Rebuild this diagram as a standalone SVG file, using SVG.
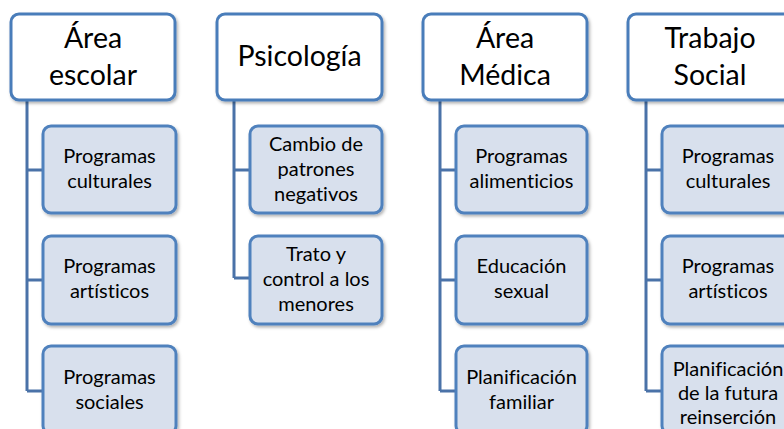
<svg xmlns="http://www.w3.org/2000/svg" width="784" height="429" viewBox="0 0 784 429">
<defs>
<filter id="sh" x="-10%" y="-10%" width="130%" height="130%">
<feDropShadow dx="1.5" dy="2" stdDeviation="1.5" flood-color="#000" flood-opacity="0.3"/>
</filter>
</defs>
<style>
.hd rect{fill:#ffffff;stroke:#4a7dba;stroke-width:3;filter:url(#sh)}
.ch rect{fill:#d8e0ed;stroke:#4f81bd;stroke-width:3;filter:url(#sh)}
text{font-variant-ligatures:none}
.hd text{font-family:Lato,"Liberation Sans",sans-serif;font-size:28.5px;fill:#000;text-anchor:middle}
.ch text{font-family:Lato,"Liberation Sans",sans-serif;font-size:20px;fill:#000;text-anchor:middle}
.cn path{fill:none;stroke:#4a72a8;stroke-width:3}
</style>
<rect width="784" height="429" fill="#ffffff"/>
<g id="connectors" class="cn">
<path d="M27,100V391M27,170H43M27,280H43M27,391H43"/>
<path d="M234,100V278M234,170H250M234,278H250"/>
<path d="M440,100V391M440,170H456M440,280H456M440,391H456"/>
<path d="M646,100V391M646,170H662M646,280H662M646,391H662"/>
</g>
<g id="h1" class="hd"><rect x="11" y="14" width="164" height="86" rx="8"/><text x="93" y="48">Área</text><text x="93" y="85">escolar</text></g>
<g id="h2" class="hd"><rect x="217" y="14" width="165" height="86" rx="8"/><text x="299.5" y="66">Psicología</text></g>
<g id="h3" class="hd"><rect x="423" y="14" width="164" height="86" rx="8"/><text x="505" y="48">Área</text><text x="505" y="85">Médica</text></g>
<g id="h4" class="hd"><rect x="628" y="14" width="164" height="86" rx="8"/><text x="710" y="48">Trabajo</text><text x="710" y="85">Social</text></g>
<g id="c1a" class="ch"><rect x="43" y="126" width="133" height="87" rx="8"/><text x="109.5" y="163">Programas</text><text x="109.5" y="188">culturales</text></g>
<g id="c1b" class="ch"><rect x="43" y="236" width="133" height="88" rx="8"/><text x="109.5" y="273">Programas</text><text x="109.5" y="298">artísticos</text></g>
<g id="c1c" class="ch"><rect x="43" y="346" width="133" height="88" rx="8"/><text x="109.5" y="384">Programas</text><text x="109.5" y="409">sociales</text></g>
<g id="c2a" class="ch"><rect x="250" y="126" width="132" height="87" rx="8"/><text x="316" y="151">Cambio de</text><text x="316" y="176">patrones</text><text x="316" y="201">negativos</text></g>
<g id="c2b" class="ch"><rect x="250" y="236" width="132" height="88" rx="8"/><text x="316" y="261">Trato y</text><text x="316" y="286">control a los</text><text x="316" y="311">menores</text></g>
<g id="c3a" class="ch"><rect x="456" y="126" width="131" height="87" rx="8"/><text x="521.5" y="163">Programas</text><text x="521.5" y="188">alimenticios</text></g>
<g id="c3b" class="ch"><rect x="456" y="236" width="131" height="88" rx="8"/><text x="521.5" y="273">Educación</text><text x="521.5" y="298">sexual</text></g>
<g id="c3c" class="ch"><rect x="456" y="346" width="131" height="88" rx="8"/><text x="521.5" y="384">Planificación</text><text x="521.5" y="409">familiar</text></g>
<g id="c4a" class="ch"><rect x="662" y="126" width="132" height="87" rx="8"/><text x="728" y="163">Programas</text><text x="728" y="188">culturales</text></g>
<g id="c4b" class="ch"><rect x="662" y="236" width="132" height="88" rx="8"/><text x="728" y="273">Programas</text><text x="728" y="298">artísticos</text></g>
<g id="c4c" class="ch"><rect x="662" y="346" width="132" height="88" rx="8"/><text x="728" y="376">Planificación</text><text x="728" y="400">de la futura</text><text x="728" y="424">reinserción</text></g>
</svg>
